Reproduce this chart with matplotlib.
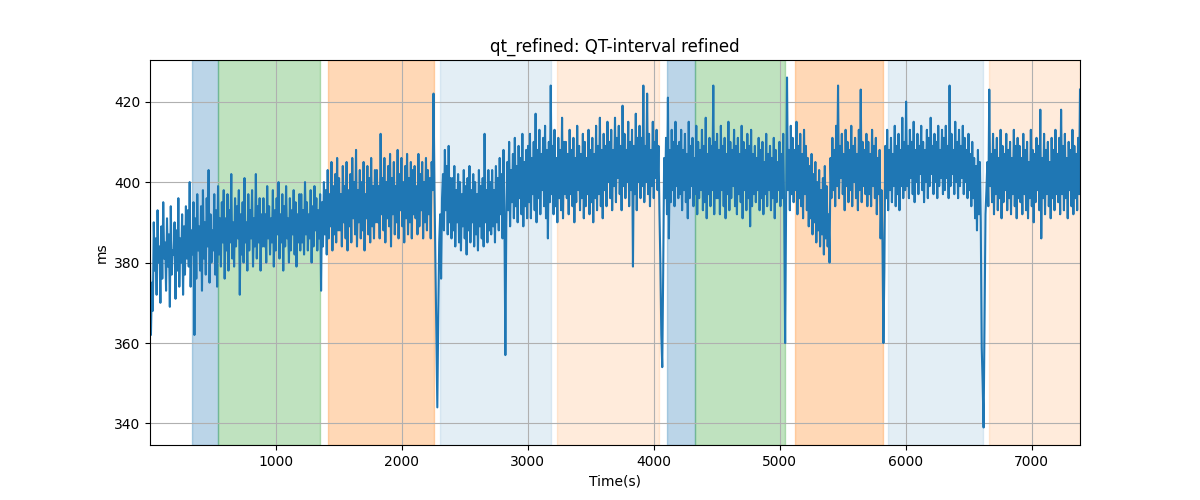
import numpy as np
import matplotlib
matplotlib.use("Agg")
import matplotlib.pyplot as plt

# QT interval (ms), read every 15 s starting at t0 ...
t0 = 3
step = 15
qt_a = [
    380, 375, 390, 386, 393, 384, 389, 395, 385, 391, 387, 394, 383, 390, 388, 396, 386, 392, 389, 394,
    393, 400, 388, 395, 391, 397, 389, 394, 398, 390, 396, 403, 392, 388, 397, 393, 399, 391, 395, 398,
    391, 397, 393, 402, 390, 396, 394, 398, 392, 395, 401, 390, 397, 393, 398, 391, 402, 394, 396, 392,
    396, 392, 399, 394, 391, 398, 393, 396, 400, 392, 397, 394, 399, 391, 396, 393, 398, 395, 392, 397,
    397, 393, 400, 395, 392, 398, 394, 399, 396, 393, 397, 395, 400, 398, 403, 397, 405, 399, 402, 406,
    401, 397, 404, 399, 405, 398, 402, 406, 400, 408, 398, 403, 400, 405, 397, 404, 401, 406, 399, 403,
    403, 399, 412, 401, 406, 400, 404, 407, 401, 405, 399, 408, 402, 406, 400, 404, 407, 401, 405, 403,
    404, 399, 407, 402, 405, 400, 406, 403, 401, 405, 422, 380, 344, 385, 376, 402, 408, 404, 409, 401,
    401, 404, 398, 402, 400, 397, 403, 399, 401, 404, 398, 402, 400, 397, 403, 399, 401, 412, 398, 403,
    400, 403, 398, 404, 401, 406, 402, 408, 357, 405, 410, 403, 407, 411, 404, 409, 406, 412, 405, 408,
    409, 412, 406, 410, 417, 408, 413, 407, 411, 414, 408, 410, 424, 409, 413, 406, 411, 408, 416, 410,
    410, 407, 413, 408, 411, 406, 414, 409, 407, 412, 410, 406, 413, 408, 411, 407, 414, 409, 416, 408,
    412, 409, 415, 410, 413, 408, 416, 411, 414, 409, 419, 412, 408, 415, 410, 413, 409, 417, 411, 414,
    411, 424, 409, 422, 412, 408, 415, 410, 413, 409, 380, 354, 406, 411, 421, 408, 413, 410, 415, 409,
    410, 413, 408, 412, 407, 415, 409, 411, 406, 414, 410, 408, 413, 409, 416, 407, 411, 409, 424, 410,
    412, 408, 414, 409, 411, 407, 415, 410, 408, 413, 409, 411, 407, 414, 410, 408, 412, 409, 413, 407,
    409, 406, 411, 408, 410, 405, 412, 407, 409, 406, 411, 408, 405, 410, 407, 412, 360, 426, 408, 414,
    411, 408, 415, 409, 412, 407, 413, 409, 406, 404, 407, 402, 405, 400, 403, 398, 401, 404, 399, 392,
    406, 411, 408, 414, 424, 409, 412, 407, 413, 410, 408, 414, 409, 411, 407, 413, 423, 410, 408, 412,
    410, 407, 413, 409, 411, 406, 408, 398, 360, 409, 413, 408, 411, 407, 414, 409, 412, 408, 416, 410,
    420, 409, 413, 410, 415, 408, 412, 409, 414, 410, 408, 413, 411, 416, 409, 412, 410, 414, 408, 413,
    411, 414, 409, 424, 412, 408, 415, 410, 413, 409, 414, 411, 408, 412, 407, 410, 406, 404, 408, 405,
    359, 339, 392, 405, 423, 407, 412, 408, 411, 406, 413, 409, 407, 412, 408, 410, 406, 413, 409, 411,
    409, 406, 412, 408, 410, 405, 413, 408, 407, 411, 409, 418, 406, 412, 408, 410, 405, 411, 408, 413,
    407, 411, 418, 409, 412, 406, 410, 408, 413, 409, 407, 411, 423,
]
# ... and the readings half a step later
qt_b = [
    362, 368, 378, 372, 380, 370, 376, 381, 373, 379, 369, 377, 382, 371, 378, 374, 380, 372, 377, 381,
    379, 374, 382, 362, 376, 383, 378, 373, 381, 377, 384, 375, 380, 383, 377, 374, 382, 379, 385, 376,
    383, 378, 385, 381, 379, 384, 386, 372, 382, 380, 385, 378, 383, 386, 379, 384, 381, 385, 378, 384,
    384, 380, 386, 382, 385, 379, 383, 387, 381, 385, 378, 384, 386, 380, 383, 387, 382, 379, 385, 383,
    385, 382, 387, 383, 386, 380, 384, 388, 383, 386, 373, 384, 387, 382, 386, 389, 383, 387, 385, 388,
    388, 384, 390, 386, 383, 389, 385, 391, 387, 384, 390, 386, 388, 383, 391, 387, 385, 389, 386, 390,
    390, 386, 392, 388, 385, 391, 389, 384, 392, 387, 390, 386, 393, 389, 385, 391, 387, 390, 386, 392,
    391, 387, 389, 393, 386, 390, 388, 392, 386, 398, 398, 362, 367, 392, 396, 388, 393, 387, 390, 386,
    388, 384, 390, 385, 383, 389, 386, 382, 388, 385, 390, 384, 387, 383, 389, 386, 384, 390, 385, 388,
    387, 389, 385, 390, 388, 392, 386, 391, 390, 393, 389, 395, 391, 394, 390, 396, 392, 389, 394, 391,
    395, 391, 397, 393, 390, 396, 392, 398, 394, 391, 386, 395, 397, 392, 394, 390, 396, 393, 391, 397,
    396, 392, 397, 394, 390, 395, 398, 393, 396, 391, 394, 397, 392, 395, 390, 396, 393, 397, 394, 391,
    398, 394, 400, 396, 393, 399, 395, 401, 397, 393, 399, 396, 400, 394, 398, 379, 397, 393, 400, 396,
    399, 395, 400, 397, 394, 399, 396, 401, 398, 393, 362, 378, 396, 392, 386, 395, 398, 394, 399, 396,
    397, 393, 398, 395, 391, 396, 399, 394, 397, 392, 396, 398, 393, 395, 391, 397, 394, 398, 392, 396,
    396, 392, 398, 394, 391, 397, 393, 396, 399, 394, 392, 397, 395, 391, 398, 393, 396, 389, 394, 397,
    395, 398, 393, 396, 392, 397, 394, 398, 393, 396, 391, 395, 398, 394, 396, 393, 395, 398, 393, 397,
    395, 398, 392, 396, 394, 391, 397, 393, 389, 391, 387, 390, 385, 388, 384, 387, 382, 386, 384, 380,
    396, 398, 394, 399, 396, 401, 397, 393, 399, 395, 398, 394, 400, 396, 393, 398, 395, 399, 397, 394,
    397, 394, 399, 396, 392, 397, 386, 385, 378, 396, 393, 398, 395, 399, 394, 397, 393, 399, 396, 398,
    399, 396, 401, 397, 395, 400, 397, 402, 398, 395, 400, 396, 399, 402, 397, 400, 396, 399, 401, 397,
    398, 401, 396, 399, 402, 397, 400, 396, 399, 401, 397, 400, 396, 398, 394, 396, 391, 388, 392, 390,
    350, 365, 398, 394, 399, 395, 392, 397, 393, 396, 391, 395, 398, 393, 396, 392, 397, 394, 391, 396,
    395, 392, 397, 393, 391, 396, 394, 390, 395, 398, 393, 386, 396, 392, 397, 394, 391, 396, 393, 397,
    395, 392, 397, 393, 396, 391, 398, 394, 392, 396, 393, 397,
]

# protocol phases: start, end (s)
span_start = [339, 545, 1413, 2307, 3236, 4109, 4325, 5125, 5863, 6664]
span_end = [545, 1352, 2257, 3186, 4043, 4325, 5043, 5821, 6617, 7383]
span_color = ["tab:blue", "tab:green", "tab:orange", "tab:blue", "tab:orange",
              "tab:blue", "tab:green", "tab:orange", "tab:blue", "tab:orange"]
span_alpha = [0.3, 0.3, 0.3, 0.12, 0.15, 0.3, 0.3, 0.3, 0.12, 0.15]

qt = np.empty(len(qt_a) + len(qt_b))
qt[0::2] = qt_a
qt[1::2] = qt_b
t = t0 + (step / 2) * np.arange(len(qt))

fig, ax = plt.subplots(figsize=(12, 5), dpi=100)
for s, e, c, a in zip(span_start, span_end, span_color, span_alpha):
    ax.axvspan(s, e, color=c, alpha=a)
ax.plot(t, qt, color="tab:blue", lw=1.5)
ax.set_xlim(t[0], t[-1])
ax.set_title("qt_refined: QT-interval refined")
ax.set_xlabel("Time(s)")
ax.set_ylabel("ms")
ax.grid(True)
fig.savefig("out.png")
